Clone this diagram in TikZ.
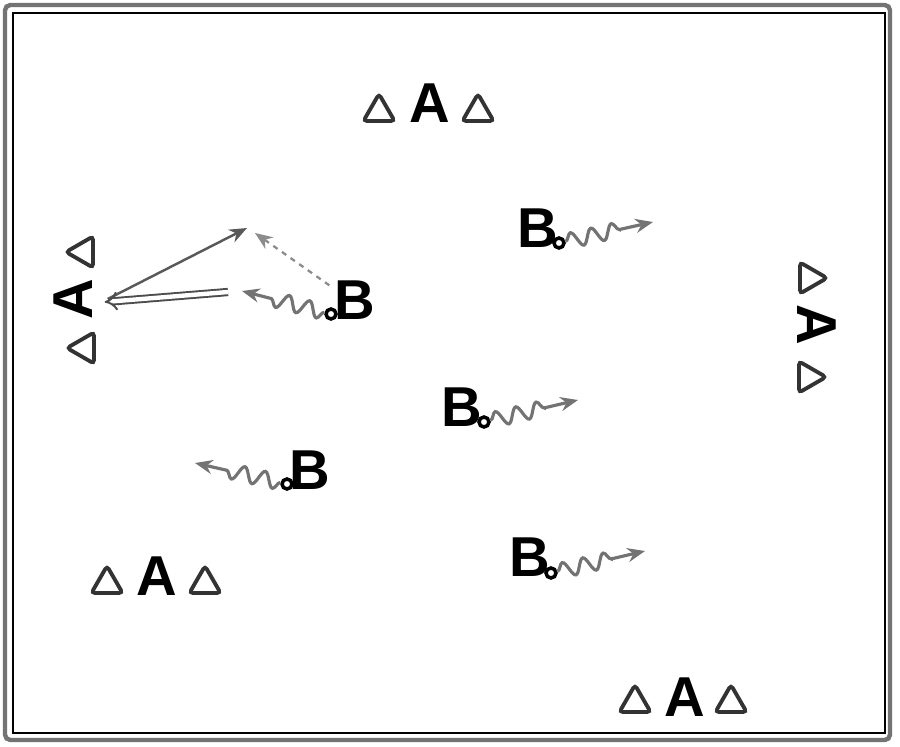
\documentclass[tikz,border=0pt]{standalone}
\usepackage{fontspec}
\setsansfont{Liberation Sans}
\usetikzlibrary{shapes,arrows,positioning,decorations.pathmorphing,arrows.meta}

\begin{document}
\begin{tikzpicture}[x=0.02cm,y=-0.02cm]
    \tikzstyle{player} = [font=\sffamily\bfseries\fontsize{32}{32}\selectfont,
               inner sep=0pt, text=black]
    \tikzstyle{cone} = [regular polygon, regular polygon sides=3, draw=black!80,
               line width=2.2pt, rounded corners=2pt, minimum size=0.72cm,
               inner sep=0pt]
    \tikzstyle{ball} = [circle, draw, fill=white, line width=2pt,
               minimum size=0.2cm, inner sep=0pt]
    \tikzstyle{pass} = [draw=black!65, line width=1.4pt, -{Stealth[length=10pt,width=8pt]}]
    \tikzstyle{run} = [draw=black!45, dashed, line width=1.3pt, -{Stealth[length=10pt,width=8pt]}]
    \tikzstyle{dribble} = [draw=black!55, line width=1.8pt, decorate,
               decoration={snake, amplitude=0.15cm, segment length=0.42cm,
               post length=0.6cm}, -{Stealth[length=10pt,width=8pt]}]
    \tikzstyle{shot} = [draw=black!70, double, double distance=2.5pt,
               line width=1.1pt, -{Implies[length=10pt]}]

    \useasboundingbox (0,0) rectangle (900,747);

    % Define frame
    \draw [black!55, line width=2.5pt, rounded corners=3pt] (5,5) rectangle (890,740);
    \draw [black, line width=0.6pt] (13,13) rectangle (885,733);

    % Players A with their cones
    \node [player] (a1) at (430,103) {A};
    \node [cone] (c1l) at (379,112) {};
    \node [cone] (c1r) at (478,112) {};

    \node [player, rotate=90] (a2) at (73,299) {A};
    \node [cone, rotate=90] (c2t) at (84,252) {};
    \node [cone, rotate=90] (c2b) at (85,348) {};

    \node [player, rotate=-90] (a3) at (817,325) {A};
    \node [cone, rotate=-90] (c3t) at (809,278) {};
    \node [cone, rotate=-90] (c3b) at (808,377) {};

    \node [player] (a4) at (157,576) {A};
    \node [cone] (c4l) at (107,584) {};
    \node [cone] (c4r) at (205,584) {};

    \node [player] (a5) at (685,697) {A};
    \node [cone] (c5l) at (635,703) {};
    \node [cone] (c5r) at (731,703) {};

    % Players B with ball
    \node [player] (b1) at (355,300) {B};
    \node [ball] (d1) at (331,314) {};
    \node [player] (b2) at (538,228) {B};
    \node [ball] (d2) at (559,243) {};
    \node [player] (b3) at (462,407) {B};
    \node [ball] (d3) at (484,422) {};
    \node [player] (b4) at (310,470) {B};
    \node [ball] (d4) at (287,484) {};
    \node [player] (b5) at (530,557) {B};
    \node [ball] (d5) at (551,573) {};

    % Ends of the moves
    \coordinate (e1) at (242,291);
    \coordinate (e2) at (653,222);
    \coordinate (e3) at (578,400);
    \coordinate (e4) at (195,463);
    \coordinate (e5) at (645,551);
    \coordinate (p1) at (247,228);
    \coordinate (r1) at (255,233);
    \coordinate (s1) at (228,292);

    % Dribbles
    \draw [dribble] (d1) -- (e1);
    \draw [dribble] (d2) -- (e2);
    \draw [dribble] (d3) -- (e3);
    \draw [dribble] (d4) -- (e4);
    \draw [dribble] (d5) -- (e5);

    % Pass, run and shot
    \draw [pass] ([xshift=0.3cm]a2.south) -- (p1);
    \draw [run] ([xshift=-0.1cm,yshift=-0.1cm]b1.north west) -- (r1);
    \draw [shot] (s1) -- ([xshift=0.24cm,yshift=-0.06cm]a2.south);

\end{tikzpicture}
\end{document}
